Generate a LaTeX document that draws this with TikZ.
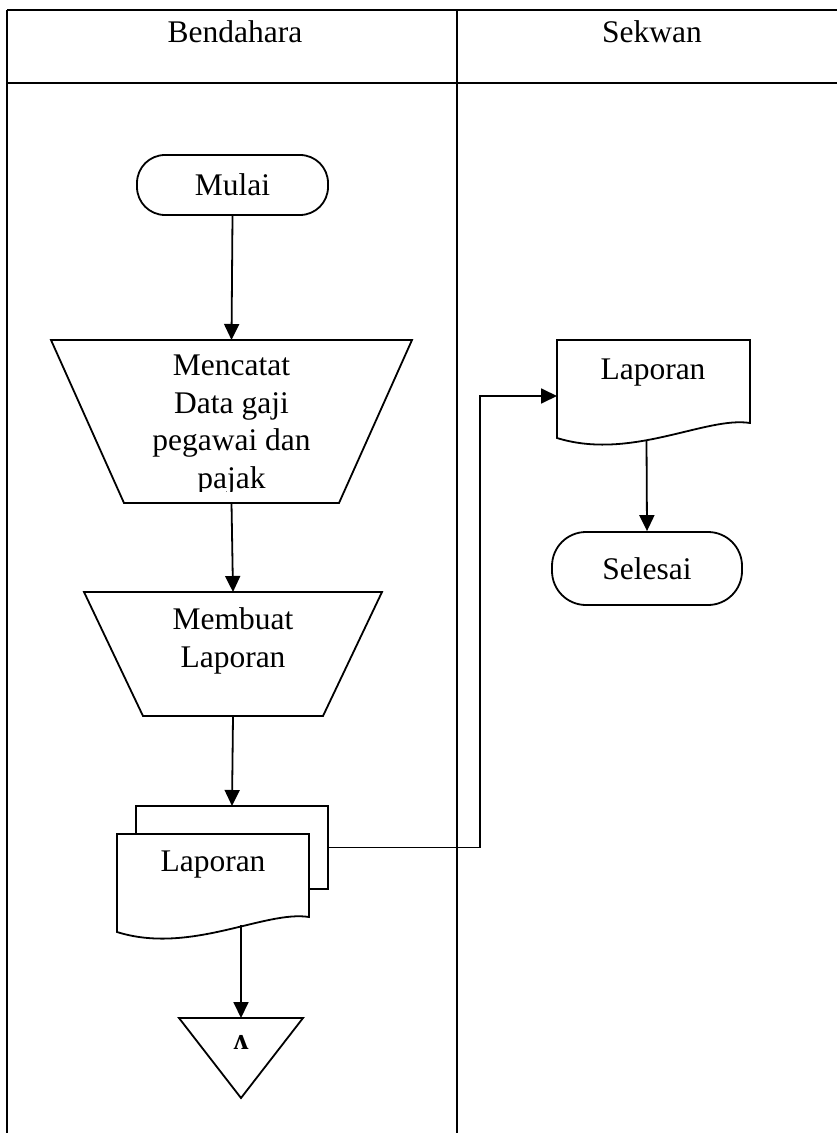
\documentclass[tikz,border=0pt]{standalone}
\usepackage{fontspec}
\setmainfont{Liberation Serif}
\usetikzlibrary{calc,arrows.meta}
\newcommand{\mydocshape}[1]{%
  \draw[shp,fill=white] (#1.north west) -- (#1.north east) -- (#1.south east)
    .. controls ($(#1.south east)+(-44,-7)$) and ($(#1.south east)+(-119,38)$) ..
    ($(#1.south west)+(0,15)$) -- cycle;}
\begin{document}
\begin{tikzpicture}[x=0.5pt,y=-0.5pt,
  shp/.style={line width=0.9pt,line join=miter},
  tbl/.style={line width=1.2pt},
  arr/.style={line width=0.9pt,-{Triangle[length=8pt,width=7.5pt]}},
  lbl/.style={font=\fontsize{15.75}{18.75}\selectfont,align=center,inner sep=0pt},
  box/.style={draw=none,inner sep=0pt,outer sep=0pt},
  term/.style={draw,line width=0.9pt,inner sep=0pt,font=\fontsize{15.75}{18.75}\selectfont}]
\useasboundingbox (0,0) rectangle (836,1133);
\fill[white] (0,0) rectangle (836,1133);
% table
\draw[tbl] (7,10) -- (845,10);
\draw[tbl] (7,83) -- (845,83);
\draw[tbl] (7,10) -- (7,1140);
\draw[tbl] (457,10) -- (457,1140);
\node[lbl] (hbend) at (235,32) {Bendahara};
\node[lbl] (hsek) at (652,32) {Sekwan};
% Mulai
\node[term,rounded corners=14pt,minimum width=95.5pt,minimum height=30pt] (mulai) at (232.5,185) {Mulai};
% Mencatat trapezoid
\node[box,minimum width=180.5pt,minimum height=81.5pt] (mencatat) at (231.5,421.5) {};
\draw[shp] (mencatat.north west) -- (mencatat.north east) -- ([xshift=-36.5pt]mencatat.south east) -- ([xshift=36.5pt]mencatat.south west) -- cycle;
\begin{scope}
\clip (0,0) rectangle (836,491);
\node[lbl] (tmencatat) at (231.5,425) {Mencatat\\Data gaji\\pegawai dan\\pajak};
\end{scope}
% Membuat trapezoid
\node[box,minimum width=149pt,minimum height=62pt] (membuat) at (233,654) {};
\draw[shp] (membuat.north west) -- (membuat.north east) -- ([xshift=-29.5pt]membuat.south east) -- ([xshift=29.5pt]membuat.south west) -- cycle;
\node[lbl] (tmembuat) at (233,641) {Membuat\\Laporan};
% multi document
\node[box,minimum width=96pt,minimum height=41.5pt] (lap1b) at (232,847.5) {};
\draw[shp,fill=white] (lap1b.south west) rectangle (lap1b.north east);
\node[box,minimum width=96pt,minimum height=41.5pt] (lap1) at (213,875.5) {};
\mydocshape{lap1}
\node[lbl] (tlap1) at (213,865) {Laporan};
% archive triangle
\node[box,minimum width=62pt,minimum height=40pt] (arsip) at (241,1058) {};
\draw[shp] (arsip.north west) -- (arsip.north east) -- (arsip.south) -- cycle;
\node[inner sep=0pt,font=\fontsize{15}{17}\selectfont\bfseries] (tarsip) at (241,1042) {ʌ};
% right document
\node[box,minimum width=96.5pt,minimum height=41.5pt] (lap2) at (653.5,381.5) {};
\mydocshape{lap2}
\node[lbl] (tlap2) at (653,373) {Laporan};
% Selesai
\node[term,rounded corners=17pt,minimum width=95pt,minimum height=36.5pt] (selesai) at (647,568.5) {Selesai};
% connectors
\coordinate (bendx) at (480,0);
\draw[arr] (mulai.south) -- (mencatat.north);
\draw[arr] (mencatat.south) -- (membuat.north);
\draw[arr] (membuat.south) -- (lap1b.north);
\draw[arr] ($(lap1.south)+(28,8)$) -- (arsip.north);
\draw[arr] (lap1b.east) -- (lap1b.east -| bendx) |- ([yshift=-7.25pt]lap2.west);
\draw[arr] ($(lap2.south)+(-7,18)$) -- (selesai.north);
\end{tikzpicture}
\end{document}
